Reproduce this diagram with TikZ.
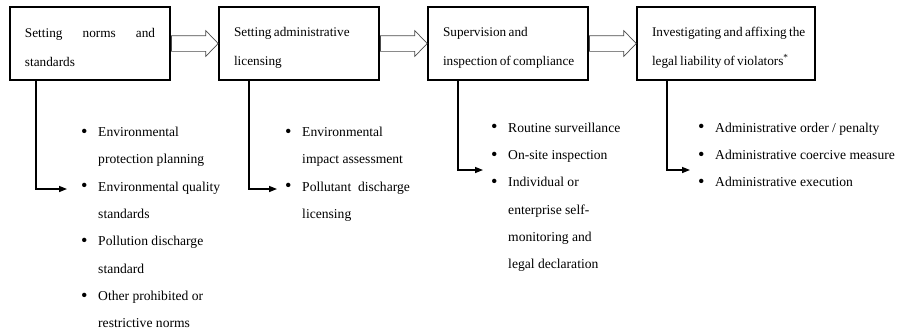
\documentclass[tikz,border=0pt]{standalone}
\usepackage{fontspec}
\setmainfont{Liberation Serif}
\usetikzlibrary{positioning,shapes.arrows,arrows.meta}

\newcommand\bitem{\makebox[14.5pt][l]{\raisebox{-0.5pt}{\scalebox{1.35}{\textbullet}}}}
\newcommand\bcont{\hspace*{14.5pt}}

\begin{document}
\begin{tikzpicture}[x=0.03cm, y=-0.03cm,
    font=\fontsize{11.6}{23.3}\selectfont,
    stagebox/.style={draw, line width=2pt, minimum height=2.19cm,
      inner xsep=0.45cm, text width=3.9cm, align=left,
      font=\fontsize{11.3}{24.5}\selectfont,
      execute at begin node={\spaceskip=0.18em plus 0.3em\rule{0pt}{15pt}}},
    hollowarrow/.style={single arrow, draw=black!70, line width=0.6pt,
      minimum height=1.4cm, inner sep=0.225cm, single arrow head extend=0.15cm,
      single arrow tip angle=92},
    conn/.style={line width=1.2pt, -{Triangle[length=2.4mm,width=1.8mm]}},
    itemlist/.style={inner sep=0pt, align=left, anchor=north west}]

  \useasboundingbox (0,0) rectangle (904,332);

  % Stages of the process
  \node[stagebox] (norms) at (90,43.5)
    {\makebox[3.9cm][s]{Setting norms and}\\standards};
  \node[stagebox, right=1.4cm of norms] (licensing)
    {Setting administrative\\licensing};
  \node[stagebox, right=1.4cm of licensing] (supervision)
    {Supervision and\\\mbox{inspection of compliance}};
  \node[stagebox, text width=4.44cm, right=1.4cm of supervision] (liability)
    {\mbox{Investigating and affixing the}\\\mbox{legal liability of violators\textsuperscript{*}}};

  % Hollow arrows between the stages
  \node[hollowarrow, right=0pt of norms] (normsarrow) {};
  \node[hollowarrow, right=0pt of licensing] (licensingarrow) {};
  \node[hollowarrow, right=0pt of supervision] (supervisionarrow) {};

  % Ends of the elbow connectors
  \coordinate (normsend) at (67,189);
  \coordinate (licensingend) at (277,189);
  \coordinate (supervisionend) at (483,170);
  \coordinate (liabilityend) at (690,170);

  \draw[conn] ([xshift=0.81cm]norms.south west) |- (normsend);
  \draw[conn] ([xshift=0.93cm]licensing.south west) |- (licensingend);
  \draw[conn] ([xshift=0.93cm]supervision.south west) |- (supervisionend);
  \draw[conn] ([xshift=0.93cm]liability.south west) |- (liabilityend);

  % Bullet lists
  \node[itemlist] (normslist) at (81,127)
    {\bitem Environmental\\\bcont protection planning\\
     \bitem Environmental quality\\\bcont standards\\
     \bitem Pollution discharge\\\bcont standard\\
     \bitem Other prohibited or\\\bcont restrictive norms};
  \node[itemlist] (licensinglist) at (285,127)
    {\bitem Environmental\\\bcont impact assessment\\
     \bitem Pollutant\ \ discharge\\\bcont licensing};
  \node[itemlist] (supervisionlist) at (491,122.5)
    {\bitem Routine surveillance\\
     \bitem On-site inspection\\
     \bitem Individual or\\\bcont enterprise self-\\
     \bcont monitoring and\\\bcont legal declaration};
  \node[itemlist] (liabilitylist) at (698,122.5)
    {\bitem Administrative order / penalty\\
     \bitem Administrative coercive measure\\
     \bitem Administrative execution};
\end{tikzpicture}
\end{document}
